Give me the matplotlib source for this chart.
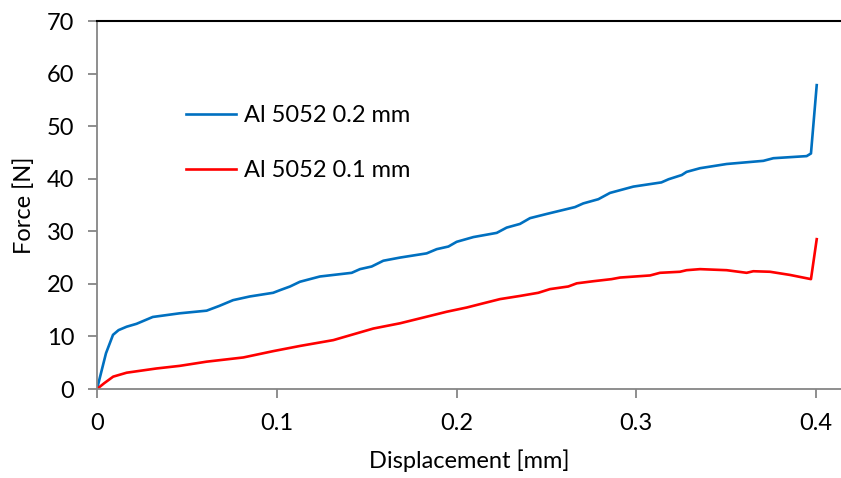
import matplotlib
matplotlib.use('Agg')
import matplotlib.pyplot as plt

plt.rcParams['font.family'] = ['Lato', 'DejaVu Sans']

# Al 5052 0.2 mm
d_02 = [0, 0.005, 0.0089, 0.012, 0.0165, 0.022, 0.031, 0.046, 0.061, 0.068, 0.0757, 0.085,
        0.098, 0.1018, 0.1074, 0.1129, 0.124, 0.1417, 0.1463, 0.1528, 0.1593, 0.1686,
        0.1834, 0.189, 0.1955, 0.2001, 0.2094, 0.2224, 0.2279, 0.2353, 0.2409, 0.2502,
        0.2659, 0.2705, 0.2789, 0.2854, 0.2984, 0.314, 0.318, 0.3253, 0.328, 0.3355,
        0.3503, 0.3707, 0.3763, 0.3948, 0.3972, 0.4004]
f_02 = [0, 6.8, 10.3, 11.2, 11.85, 12.4, 13.7, 14.4, 14.9, 15.8, 16.9, 17.6,
        18.3, 18.8, 19.5, 20.4, 21.4, 22.1, 22.8, 23.3, 24.4, 25.0,
        25.8, 26.6, 27.1, 28.0, 28.9, 29.7, 30.7, 31.4, 32.5, 33.3,
        34.6, 35.3, 36.1, 37.3, 38.5, 39.3, 39.9, 40.7, 41.3, 42.0,
        42.8, 43.4, 43.9, 44.3, 44.8, 57.8]

# Al 5052 0.1 mm
d_01 = [0, 0.004, 0.009, 0.0165, 0.033, 0.046, 0.061, 0.0814, 0.098, 0.1131, 0.1315, 0.1537,
        0.1686, 0.1834, 0.1946, 0.2057, 0.2149, 0.2242, 0.2353, 0.2455, 0.252, 0.2622,
        0.2669, 0.2761, 0.2863, 0.291, 0.3077, 0.3132, 0.3243, 0.328, 0.3355, 0.3503,
        0.3614, 0.3651, 0.3744, 0.3855, 0.3972, 0.4004]
f_01 = [0, 1.1, 2.35, 3.1, 3.9, 4.4, 5.2, 6.0, 7.2, 8.2, 9.3, 11.5,
        12.5, 13.75, 14.7, 15.5, 16.3, 17.1, 17.7, 18.3, 19.0, 19.5,
        20.1, 20.5, 20.9, 21.2, 21.6, 22.1, 22.3, 22.6, 22.8, 22.6,
        22.1, 22.4, 22.3, 21.7, 20.9, 28.5]

fig = plt.figure(figsize=(8.41, 4.78), dpi=100)
ax = fig.add_axes([97 / 841, 1 - 389 / 478, 744 / 841, 368 / 478])

ax.plot(d_02, f_02, color='#0070C0', lw=1.9, label='Al 5052 0.2 mm')
ax.plot(d_01, f_01, color='#FF0000', lw=1.9, label='Al 5052 0.1 mm')

ax.set_xlim(0, 744 / 1797.5)
ax.set_ylim(0, 70)
ax.set_xticks([0, 0.1, 0.2, 0.3, 0.4])
ax.set_xticklabels(['0', '0.1', '0.2', '0.3', '0.4'])
ax.set_yticks(range(0, 71, 10))

ax.spines['right'].set_visible(False)
ax.spines['top'].set_color('black')
ax.spines['top'].set_linewidth(1.5)
for s in ['left', 'bottom']:
    ax.spines[s].set_color('#868686')
    ax.spines[s].set_linewidth(1.3)

ax.tick_params(axis='both', direction='out', length=6.5, width=1.3, color='#868686',
               labelsize=17)
ax.tick_params(axis='y', pad=10)
ax.tick_params(axis='x', pad=11)
ax.set_xlabel('Displacement [mm]', fontsize=17, labelpad=11)
ax.set_ylabel('Force [N]', fontsize=17, labelpad=8)

ax.legend(loc='upper left', bbox_to_anchor=(0.091, 0.83), frameon=False, fontsize=17,
          handlelength=2.1, labelspacing=1.45, handletextpad=0.35)

fig.savefig('out.png', dpi=100)
